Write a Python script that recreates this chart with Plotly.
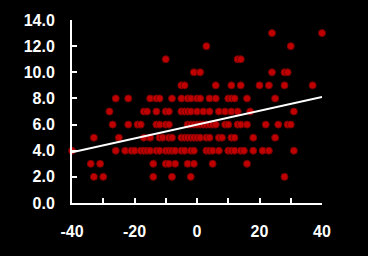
import numpy as np
import plotly.graph_objects as go

# x positions grouped by y level
x_y13 = [24, 40]
x_y12 = [3, 30]
x_y11 = [-10, 13, 14]
x_y10 = [-1, 1, 24, 28, 29]
x_y9 = [-5, -4, 6, 11, 14, 20, 23, 28, 37]
x_y8 = [-26, -22, -15, -13, -12, -8, -5, -3, -2, 0, 1, 4, 6, 10, 11, 12, 16, 25]
x_y7 = [-28, -17, -16, -13, -10, -9, -5, -4, -3, -2, 0, 2, 4, 7, 9, 11, 13, 17, 31]
x_y6 = [-27, -22, -19, -18, -13, -12, -10, -9, -3, -2, -1, 0, 1, 2, 3, 4, 5, 6, 9, 10,
        13, 14, 16, 22, 26, 29, 30]
x_y5 = [-33, -25, -17, -15, -12, -11, -9, -8, -5, -4, -3, -2, -1, 0, 1, 3, 4, 7, 8, 11,
        12, 18, 25]
x_y4 = [-40, -26, -23, -21, -20, -18, -17, -16, -15, -13, -12, -10, -9, -8, -7, -5, -4,
        -2, -1, 3, 4, 5, 7, 10, 11, 12, 14, 15, 18, 21, 23, 31]
x_y3 = [-34, -31, -14, -10, -9, -7, -3, -1, 5, 16]
x_y2 = [-33, -30, -14, -8, -2, 28]

groups = {13: x_y13, 12: x_y12, 11: x_y11, 10: x_y10, 9: x_y9, 8: x_y8,
          7: x_y7, 6: x_y6, 5: x_y5, 4: x_y4, 3: x_y3, 2: x_y2}

x_values = []
y_values = []
for yv, xs in groups.items():
    x_values += xs
    y_values += [yv] * len(xs)

x_arr = np.array(x_values, dtype=float)
y_arr = np.array(y_values, dtype=float)
slope, intercept = np.polyfit(x_arr, y_arr, 1)
trend_x = np.array([-40.0, 40.0])
trend_y = slope * trend_x + intercept

x_ticks = [-40, -20, 0, 20, 40]
y_ticks = [0, 2, 4, 6, 8, 10, 12, 14]

fig = go.Figure()
fig.add_trace(go.Scatter(
    x=x_values, y=y_values, mode="markers",
    marker=dict(size=7, color="#c00000", line=dict(color="#780000", width=1)),
    cliponaxis=False, showlegend=False,
))
fig.add_trace(go.Scatter(
    x=trend_x, y=trend_y, mode="lines",
    line=dict(color="white", width=2), showlegend=False,
))

font = dict(family="Liberation Sans, Arial, sans-serif", size=16, color="white")
fig.update_layout(
    width=368, height=256,
    margin=dict(l=72, r=46, t=20, b=53),
    paper_bgcolor="black", plot_bgcolor="black",
    font=font,
)
fig.update_xaxes(
    range=[-40, 40], tickvals=x_ticks, ticktext=[f"<b>{v}</b>" for v in x_ticks],
    showgrid=False, zeroline=False, showline=True, linecolor="white", linewidth=2,
    ticks="inside", ticklen=5, tickcolor="white", tickwidth=2,
    minor=dict(dtick=10, ticks="inside", ticklen=5, tickcolor="white", tickwidth=2, showgrid=False),
    ticklabelstandoff=13,
)
fig.update_yaxes(
    range=[0, 14], tickvals=y_ticks, ticktext=[f"<b>{v:.1f}</b>" for v in y_ticks],
    showgrid=False, zeroline=False, showline=True, linecolor="white", linewidth=2,
    ticks="inside", ticklen=5, tickcolor="white", tickwidth=2,
    ticklabelstandoff=12,
)
fig.write_html("out.html")
